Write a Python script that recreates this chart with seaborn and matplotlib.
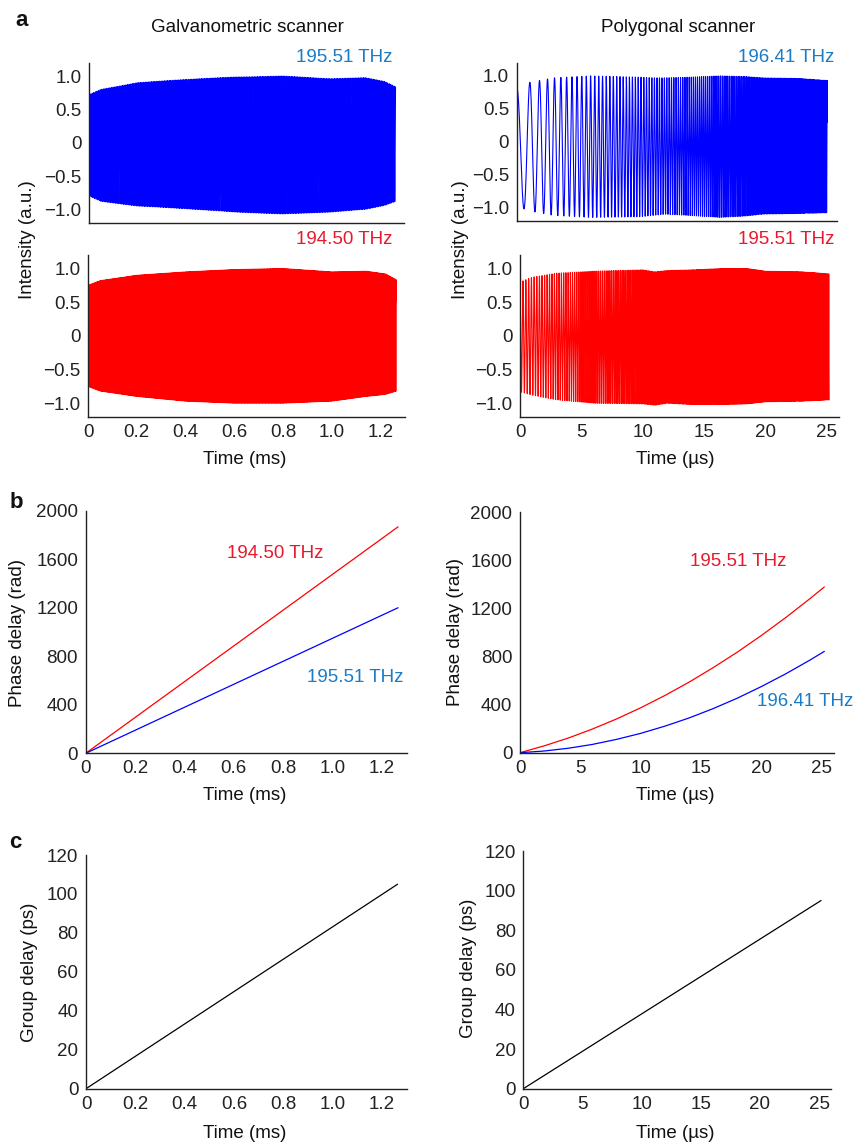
import numpy as np
import pandas as pd
import matplotlib
matplotlib.use("Agg")
import matplotlib.pyplot as plt
import seaborn as sns

sns.set_theme(style="white")
plt.rcParams["font.family"] = ["Liberation Sans", "DejaVu Sans"]
plt.rcParams["axes.linewidth"] = 1.0
plt.rcParams["axes.edgecolor"] = "#222222"
plt.rcParams["text.color"] = "#111111"
plt.rcParams["xtick.color"] = "#222222"
plt.rcParams["ytick.color"] = "#222222"

W, H = 855, 1142
FS = 13.5

# ---------------- data ----------------
# Phase delay (rad) -- galvanometric scanner, time in ms
galvo_t = [0.0, 1.265]
galvo_phase_194 = [0.0, 1867.0]
galvo_phase_195 = [0.0, 1200.0]

# Phase delay (rad) -- polygonal scanner, time in us
poly_t = [0.0, 2.0, 4.0, 6.0, 8.0, 10.0, 12.0, 14.0, 16.0, 18.0, 20.0, 22.0, 24.0, 25.2]
poly_phase_195 = [0, 57, 122, 197, 281, 374, 476, 587, 708, 837, 976, 1124, 1281, 1379]
poly_phase_196 = [0, 14, 37, 69, 111, 161, 221, 289, 367, 454, 551, 656, 770, 843]

# Group delay (ps)
galvo_group_t = [0.0, 1.263]
galvo_group = [0.0, 105.0]
poly_group_t = [0.0, 25.16]
poly_group = [0.0, 95.0]

# Interferogram envelopes (upper / lower), galvanometric scanner
galvo_env_t = [0.0, 0.05, 0.2, 0.4, 0.6, 0.8, 1.0, 1.14, 1.22, 1.265]
galvo_up_195 = [0.72, 0.80, 0.90, 0.95, 0.985, 1.0, 0.96, 0.975, 0.92, 0.84]
galvo_lo_195 = [-0.80, -0.88, -0.95, -0.99, -1.04, -1.07, -1.04, -1.0, -0.94, -0.88]
galvo_up_194 = [0.75, 0.82, 0.90, 0.95, 0.985, 1.0, 0.95, 0.96, 0.92, 0.83]
galvo_lo_194 = [-0.75, -0.82, -0.90, -0.97, -1.0, -1.0, -0.97, -0.90, -0.87, -0.82]

# Interferogram envelopes, polygonal scanner
poly_env_t = [0.0, 1.0, 3.0, 6.0, 10.0, 11.0, 12.0, 14.0, 16.5, 18.5, 20.0, 23.0, 25.2]
poly_up_196 = [0.82, 0.90, 0.97, 1.0, 0.98, 0.97, 0.97, 0.98, 1.0, 0.99, 0.97, 0.96, 0.93]
poly_lo_196 = [-0.98, -1.05, -1.12, -1.15, -1.14, -1.12, -1.10, -1.12, -1.15, -1.13, -1.10, -1.09, -1.08]
poly_up_195 = [0.80, 0.87, 0.93, 0.96, 0.98, 0.95, 0.97, 0.98, 1.0, 1.0, 0.96, 0.95, 0.92]
poly_lo_195 = [-0.83, -0.88, -0.95, -1.0, -1.01, -1.03, -1.0, -1.02, -1.02, -1.01, -0.98, -0.97, -0.95]

galvo_xticks = [0, 0.2, 0.4, 0.6, 0.8, 1.0, 1.2]
galvo_xticklabels = ["0", "0.2", "0.4", "0.6", "0.8", "1.0", "1.2"]
poly_xticks = [0, 5, 10, 15, 20, 25]
int_yticks = [-1.0, -0.5, 0, 0.5, 1.0]
int_yticklabels = ["\u22121.0", "\u22120.5", "0", "0.5", "1.0"]
phase_yticks = [0, 400, 800, 1200, 1600, 2000]
group_yticks = [0, 20, 40, 60, 80, 100, 120]

BLUE = "#0000ff"
RED = "#ff0000"
BLUE_TXT = "#1a7bc6"
RED_TXT = "#e8192c"


def interferogram(t_phase, phase, t_env, up, lo, n_per_rad=7):
    """Fringe signal cos(phase) scaled between the measured envelopes."""
    coef = np.polyfit(t_phase, phase, 2 if len(t_phase) > 2 else 1)
    total = phase[-1]
    n = int(total * n_per_rad) + 200
    t = np.linspace(t_phase[0], t_phase[-1], n)
    ph = np.polyval(coef, t)
    ph -= ph[0]
    u = np.interp(t, t_env, up)
    l = np.interp(t, t_env, lo)
    s = (u + l) / 2 + (u - l) / 2 * np.cos(ph)
    return pd.DataFrame({"t": t, "s": s})


fig = plt.figure(figsize=(W / 100, H / 100), dpi=100)


def add_ax(x0, y0, x1, y1):
    return fig.add_axes([x0 / W, 1 - y1 / H, (x1 - x0) / W, (y1 - y0) / H])


def style(ax, xlim, ylim, xticks, yticks, xticklabels=None, yticklabels=None, show_xlabels=True):
    sns.despine(ax=ax)
    ax.set_xlim(*xlim)
    ax.set_ylim(*ylim)
    ax.set_xticks(xticks)
    ax.set_yticks(yticks)
    if xticklabels is not None:
        ax.set_xticklabels(xticklabels)
    if yticklabels is not None:
        ax.set_yticklabels(yticklabels)
    if not show_xlabels:
        ax.set_xticklabels([])
    ax.tick_params(axis="x", direction="in", length=4.5, width=1.0, labelsize=FS, pad=5)
    ax.tick_params(axis="y", direction="out", length=2.5, width=1.0, labelsize=FS, pad=3)
    ax.set_xlabel("")
    ax.set_ylabel("")
    ax.grid(False)
    ax.set_facecolor("none")


def ftext(x, y, s, **kw):
    kw.setdefault("fontsize", FS)
    fig.text(x / W, 1 - y / H, s, **kw)


# ---------------- panel a ----------------
ax = add_ax(89, 62.7, 404, 222.7)
df = interferogram(galvo_t, galvo_phase_195, galvo_env_t, galvo_up_195, galvo_lo_195)
sns.lineplot(data=df, x="t", y="s", ax=ax, color=BLUE, lw=0.8, estimator=None, sort=False)
style(ax, (0, 1.3), (-1.2, 1.2), galvo_xticks, int_yticks, yticklabels=int_yticklabels, show_xlabels=False)

ax = add_ax(88, 255, 405, 416.7)
df = interferogram(galvo_t, galvo_phase_194, galvo_env_t, galvo_up_194, galvo_lo_194)
sns.lineplot(data=df, x="t", y="s", ax=ax, color=RED, lw=0.8, estimator=None, sort=False)
style(ax, (0, 1.3), (-1.2, 1.2), galvo_xticks, int_yticks, galvo_xticklabels, int_yticklabels)

ax = add_ax(516.7, 62.7, 837.3, 220.7)
df = interferogram(poly_t, poly_phase_196, poly_env_t, poly_up_196, poly_lo_196, n_per_rad=12)
sns.lineplot(data=df, x="t", y="s", ax=ax, color=BLUE, lw=0.8, estimator=None, sort=False)
style(ax, (0, 26), (-1.2, 1.2), poly_xticks, int_yticks, yticklabels=int_yticklabels, show_xlabels=False)

ax = add_ax(520, 255, 839, 416.7)
df = interferogram(poly_t, poly_phase_195, poly_env_t, poly_up_195, poly_lo_195, n_per_rad=10)
sns.lineplot(data=df, x="t", y="s", ax=ax, color=RED, lw=0.8, estimator=None, sort=False)
style(ax, (0, 26), (-1.2, 1.2), poly_xticks, int_yticks, yticklabels=int_yticklabels)

ftext(22, 21, "a", fontsize=16, fontweight="bold", ha="center", va="center")
ftext(247, 27, "Galvanometric scanner", ha="center", va="center")
ftext(678, 27, "Polygonal scanner", ha="center", va="center")
ftext(392, 57, "195.51 THz", color=BLUE_TXT, ha="right", va="center")
ftext(392, 240, "194.50 THz", color=RED_TXT, ha="right", va="center")
ftext(834, 57, "196.41 THz", color=BLUE_TXT, ha="right", va="center")
ftext(834, 240, "195.51 THz", color=RED_TXT, ha="right", va="center")
ftext(27, 240, "Intensity (a.u.)", rotation=90, ha="center", va="center")
ftext(460, 240, "Intensity (a.u.)", rotation=90, ha="center", va="center")
ftext(245, 459, "Time (ms)", ha="center", va="center")
ftext(675, 459, "Time (\u00b5s)", ha="center", va="center")

# ---------------- panel b ----------------
ax = add_ax(85.7, 510.7, 406.7, 753.3)
sns.lineplot(x=galvo_t, y=galvo_phase_194, ax=ax, color=RED, lw=0.9, estimator=None)
sns.lineplot(x=galvo_t, y=galvo_phase_195, ax=ax, color=BLUE, lw=0.9, estimator=None)
style(ax, (0, 1.3), (0, 2000), galvo_xticks, phase_yticks, galvo_xticklabels)

ax = add_ax(520, 512.3, 834, 752.7)
sns.lineplot(x=poly_t, y=poly_phase_195, ax=ax, color=RED, lw=0.9, estimator=None)
sns.lineplot(x=poly_t, y=poly_phase_196, ax=ax, color=BLUE, lw=0.9, estimator=None)
style(ax, (0, 26), (0, 2000), poly_xticks, phase_yticks)

ftext(16, 503, "b", fontsize=16, fontweight="bold", ha="center", va="center")
ftext(275, 553, "194.50 THz", color=RED_TXT, ha="center", va="center")
ftext(355, 678, "195.51 THz", color=BLUE_TXT, ha="center", va="center")
ftext(738, 561, "195.51 THz", color=RED_TXT, ha="center", va="center")
ftext(805, 701, "196.41 THz", color=BLUE_TXT, ha="center", va="center")
ftext(18, 633, "Phase delay (rad)", rotation=90, ha="center", va="center")
ftext(455, 632, "Phase delay (rad)", rotation=90, ha="center", va="center")
ftext(245, 796, "Time (ms)", ha="center", va="center")
ftext(675, 796, "Time (\u00b5s)", ha="center", va="center")

# ---------------- panel c ----------------
ax = add_ax(86, 855, 406.7, 1088.7)
sns.lineplot(x=galvo_group_t, y=galvo_group, ax=ax, color="black", lw=0.9, estimator=None)
style(ax, (0, 1.3), (0, 120), galvo_xticks, group_yticks, galvo_xticklabels)

ax = add_ax(523.3, 851, 831, 1088.7)
sns.lineplot(x=poly_group_t, y=poly_group, ax=ax, color="black", lw=0.9, estimator=None)
style(ax, (0, 26), (0, 120), poly_xticks, group_yticks)

ftext(15, 843, "c", fontsize=16, fontweight="bold", ha="center", va="center")
ftext(29, 972, "Group delay (ps)", rotation=90, ha="center", va="center")
ftext(468, 968, "Group delay (ps)", rotation=90, ha="center", va="center")
ftext(245, 1133, "Time (ms)", ha="center", va="center")
ftext(675, 1133, "Time (\u00b5s)", ha="center", va="center")

fig.savefig("out.png", dpi=100)
